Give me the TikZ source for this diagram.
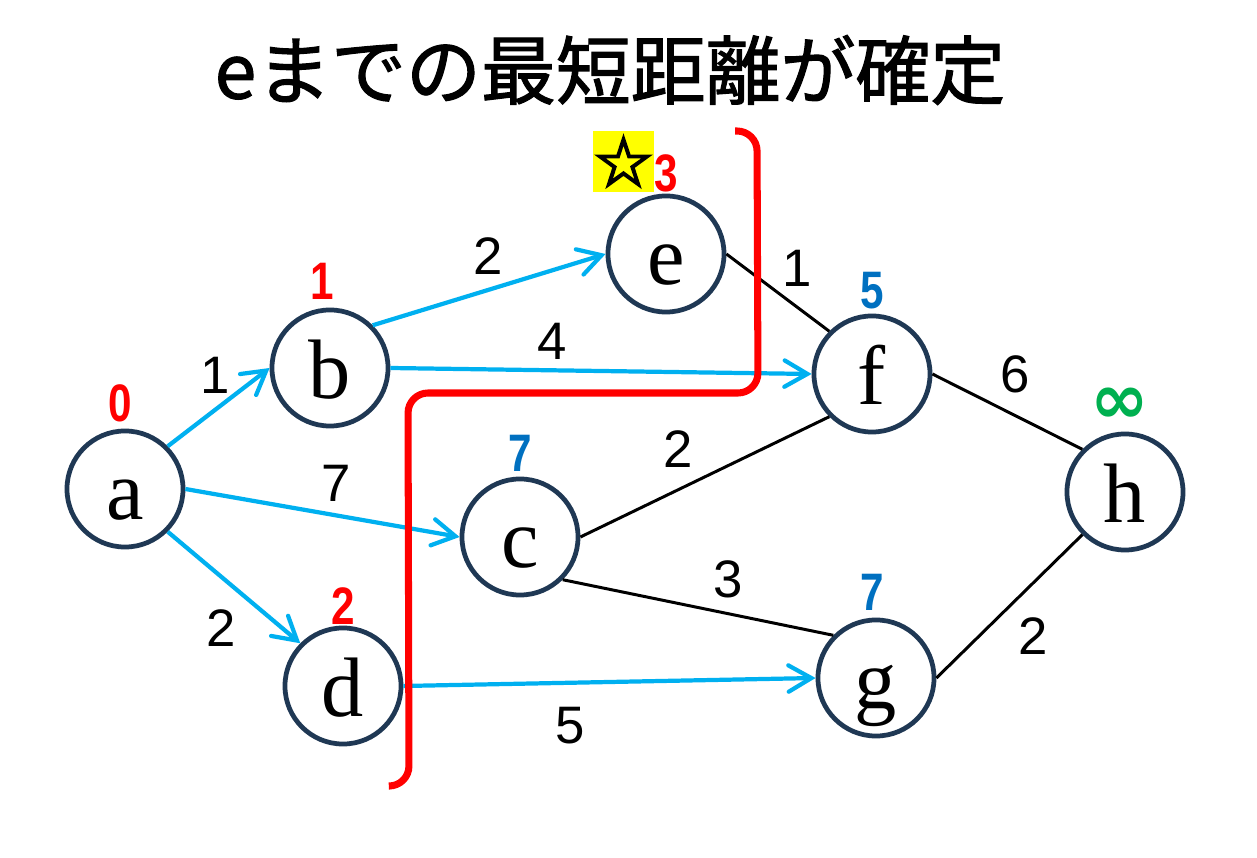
\documentclass[tikz,border=0pt]{standalone}
\usepackage{fontspec}
\setmainfont{Liberation Serif}
\newfontfamily\jpfont[FakeBold=1.5]{Noto Sans CJK JP}
\newfontfamily\numfont{Liberation Sans}
\newfontfamily\distfont[FakeStretch=0.8]{Liberation Sans}
\newfontfamily\symfont{DejaVu Sans}
\newfontfamily\starfont[FakeBold=3]{DejaVu Sans}
\usetikzlibrary{arrows.meta}
\definecolor{nodeblue}{RGB}{31,56,84}
\definecolor{arrowcyan}{RGB}{0,176,240}
\definecolor{distblue}{RGB}{0,112,192}
\definecolor{distgreen}{RGB}{0,176,80}
\definecolor{cutred}{RGB}{255,0,0}
\definecolor{staryellow}{RGB}{255,255,0}
\begin{document}
\begin{tikzpicture}[x=0.01cm,y=-0.01cm,
  vtx/.style={circle, draw=nodeblue, line width=1.35pt, minimum size=1.16cm, inner sep=0pt,
    text height=17.07pt, text depth=0pt, font=\fontsize{24}{28}\selectfont},
  arr/.style={draw=arrowcyan, line width=1.2pt,
    -{Straight Barb[length=6.5pt,width=7.5pt,line cap=round]}},
  edg/.style={draw=black, line width=0.85pt},
  wlab/.style={font=\numfont\fontsize{15}{18}\selectfont, inner sep=0pt},
  dlab/.style={font=\distfont\bfseries\fontsize{15}{18}\selectfont, inner sep=0pt},
  cut/.style={draw=cutred, line width=2pt, rounded corners=0.2cm}
]
\useasboundingbox (0,0) rectangle (1257,858);
\fill[white] (0,0) rectangle (1257,858);

% title
\node[font=\jpfont\fontsize{21.3}{24}\selectfont, inner sep=0pt] (title) at (610,70) {eまでの最短距離が確定};

% vertices
\node[vtx] (a) at (125,489) {a};
\node[vtx] (b) at (330,368) {b};
\node[vtx] (c) at (520,537) {c};
\node[vtx] (d) at (343,686) {d};
\node[vtx] (e) at (666,254) {e};
\node[vtx] (f) at (872,374) {f};
\node[vtx] (g) at (876,678) {g};
\node[vtx] (h) at (1125,492) {h};

% arrows
\draw[arr] (a.45) -- (b.180);
\draw[arr] (a.0) -- (c.180);
\draw[arr] (a.-45) -- (d.135);
\draw[arr] (b.45) -- (e.180);
\draw[arr] (b.0) -- (f.180);
\draw[arr] (d.0) -- (g.180);

% plain edges
\draw[edg] (e.0) -- (f.135);
\draw[edg] (f.0) -- (h.135);
\draw[edg] (c.0) -- (f.-135);
\draw[edg] (c.-45) -- (g.135);
\draw[edg] (g.0) -- (h.-135);

% edge weights
\node[wlab] (wab) at (215,375) {1};
\node[wlab] (wac) at (336,483) {7};
\node[wlab] (wad) at (221,628) {2};
\node[wlab] (wbe) at (488,256) {2};
\node[wlab] (wbf) at (552,341) {4};
\node[wlab] (wef) at (797,268) {1};
\node[wlab] (wfh) at (1015,374) {6};
\node[wlab] (wcf) at (678,449) {2};
\node[wlab] (wcg) at (728,579) {3};
\node[wlab] (wdg) at (570,726) {5};
\node[wlab] (wgh) at (1033,636) {2};

% distances
\node[dlab, text=cutred] (da) at (120,403) {0};
\node[dlab, text=cutred] (db) at (322,281) {1};
\node[dlab, text=cutred] (de) at (666,173) {3};
\node[dlab, text=cutred] (dd) at (343,606) {2};
\node[dlab, text=distblue] (dc) at (520,453) {7};
\node[dlab, text=distblue] (df) at (872,291) {5};
\node[dlab, text=distblue] (dg) at (872,592) {7};
\node[font=\symfont\bfseries\fontsize{20}{22}\selectfont, text=distgreen, inner sep=0pt] (dh) at (1120,406) {∞};

% star marker
\node[fill=staryellow, minimum width=0.55cm, minimum height=0.61cm, inner sep=0pt,
  font=\starfont\fontsize{19.5}{20}\selectfont] (star) at (623.5,161.5) {☆};

% cut line
\draw[cut] (735,131) -- (757,131) -- (758,393) -- (408,393) -- (409,786) -- (390,786);
\end{tikzpicture}
\end{document}
